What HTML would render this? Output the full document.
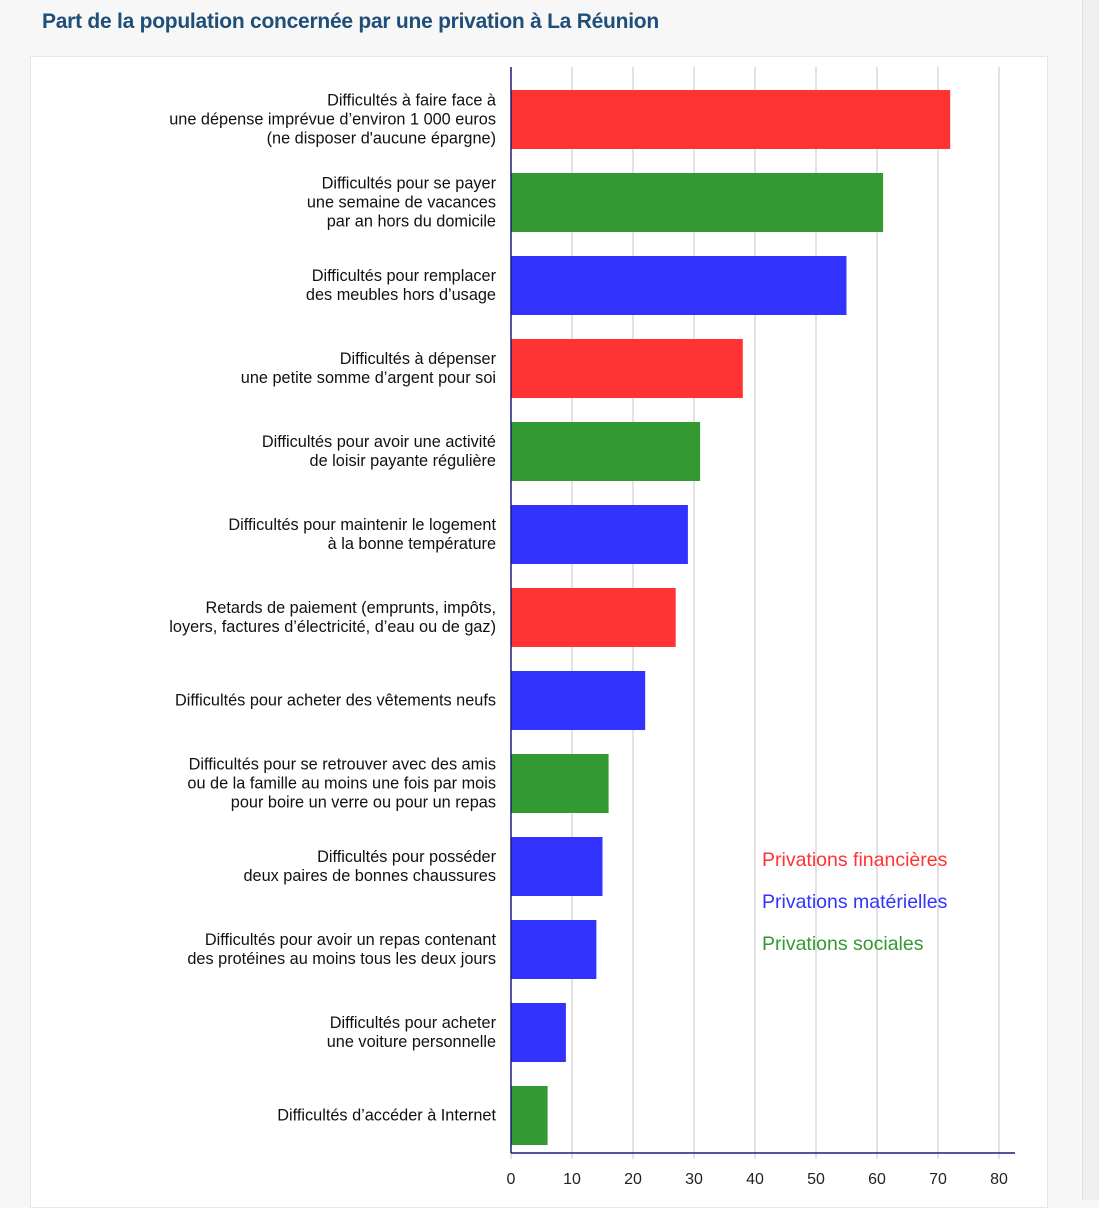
<!DOCTYPE html>
<html><head><meta charset="utf-8"><style>
html,body{margin:0;padding:0;}
body{width:1099px;height:1200px;background:#f7f7f7;position:relative;overflow:hidden;font-family:"Liberation Sans",sans-serif;}
#title{position:absolute;left:42px;top:10px;font-size:21px;font-weight:bold;color:#1f4e79;letter-spacing:-0.25px;}
#card{position:absolute;left:30px;top:56px;width:1016px;height:1150px;background:#fff;border:1px solid #e6e6e6;}
#strip{position:absolute;left:1082px;top:0;width:17px;height:1200px;background:#efefef;border-left:1px solid #e0e0e0;}
svg{position:absolute;left:0;top:0;}
</style></head><body>
<div id="title">Part de la population concernée par une privation à La Réunion</div>
<div id="card"></div>
<div id="strip"></div>
<svg id="chart" width="1099" height="1200"></svg>
<script>
const categories = [
 ["Difficultés à faire face à","une dépense imprévue d’environ 1 000 euros","(ne disposer d'aucune épargne)"],
 ["Difficultés pour se payer","une semaine de vacances","par an hors du domicile"],
 ["Difficultés pour remplacer","des meubles hors d’usage"],
 ["Difficultés à dépenser","une petite somme d’argent pour soi"],
 ["Difficultés pour avoir une activité","de loisir payante régulière"],
 ["Difficultés pour maintenir le logement","à la bonne température"],
 ["Retards de paiement (emprunts, impôts,","loyers, factures d’électricité, d’eau ou de gaz)"],
 ["Difficultés pour acheter des vêtements neufs"],
 ["Difficultés pour se retrouver avec des amis","ou de la famille au moins une fois par mois","pour boire un verre ou pour un repas"],
 ["Difficultés pour posséder","deux paires de bonnes chaussures"],
 ["Difficultés pour avoir un repas contenant","des protéines au moins tous les deux jours"],
 ["Difficultés pour acheter","une voiture personnelle"],
 ["Difficultés d’accéder à Internet"]
];
const values = [72,61,55,38,31,29,27,22,16,15,14,9,6];
const types = ["fin","soc","mat","fin","soc","mat","fin","mat","soc","mat","mat","mat","soc"];
const ticks = [0,10,20,30,40,50,60,70,80];
const legendLabels = ["Privations financières","Privations matérielles","Privations sociales"];
const legendTypes = ["fin","mat","soc"];

const colors = {fin:"#ff3333",mat:"#3333ff",soc:"#339933"};
const NS="http://www.w3.org/2000/svg";
const svg=document.getElementById('chart');
const x0=511, pxPer=6.1, top0=78, step=83, barH=59, axisY=1153;
const X=v=>x0+v*pxPer;
const Y=i=>top0+i*step;
function mk(t,a){const e=document.createElementNS(NS,t);for(const k in a)e.setAttribute(k,a[k]);svg.appendChild(e);return e;}
ticks.forEach(t=>{
  if(t>0){const g=mk('line',{x1:X(t),x2:X(t),y1:67,y2:axisY,stroke:'#c4c4c4','stroke-width':1});
  
  }
  const tk=mk('line',{x1:X(t),x2:X(t),y1:axisY,y2:axisY+6,stroke:'#c4c4c4'});
  
  
  const tx=mk('text',{x:X(t),y:1184,'text-anchor':'middle','font-size':16,fill:'#222'});
  tx.textContent=t;
  
  
});
values.forEach((v,i)=>{
  const yc=Y(i)+step/2;
  const r=mk('rect',{x:x0,y:yc-barH/2,width:X(v)-x0,height:barH,fill:colors[types[i]]});
  
  
  const lines=categories[i];
  const lh=19;
  const t=mk('text',{x:496,'text-anchor':'end','font-size':16.3,fill:'#111'});
  
  
  lines.forEach((l,j)=>{
    const s=document.createElementNS(NS,'tspan');
    s.setAttribute('x',496);
    s.setAttribute('y',yc-(lines.length-1)*lh/2+j*lh+5);
    s.textContent=l;t.appendChild(s);
  });
});
const ya=mk('line',{x1:x0,x2:x0,y1:67,y2:axisY,stroke:'#1a1a80','stroke-width':1.5});


const xa=mk('line',{x1:x0,x2:1015,y1:axisY,y2:axisY,stroke:'#1a1a80','stroke-width':1.5});


legendLabels.forEach((l,i)=>{
  const t=mk('text',{x:762,y:866+i*42,'font-size':19.5,fill:colors[legendTypes[i]]});
  t.textContent=l;
  
  
});
</script>
</body></html>
